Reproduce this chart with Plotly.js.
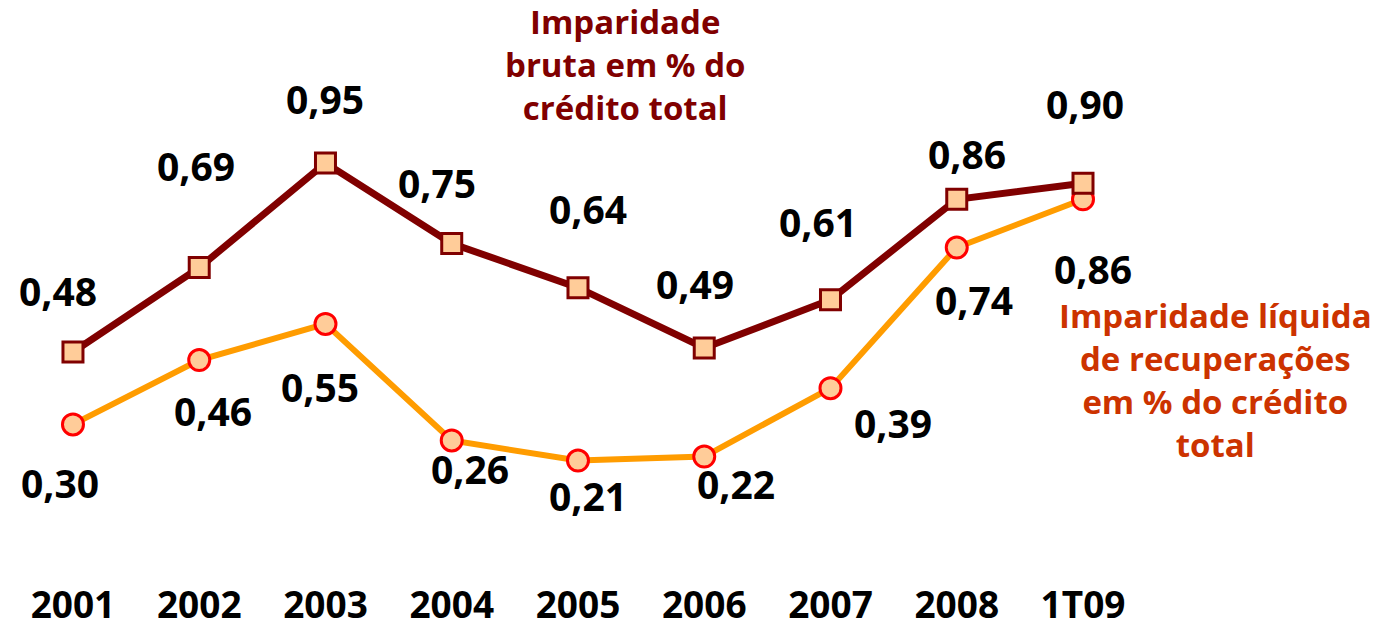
<!DOCTYPE html>
<html><head><meta charset="utf-8">
<script src="https://cdn.plot.ly/plotly-3.0.1.min.js"></script>
<style>html,body{margin:0;padding:0;background:#fff}#chart{width:1385px;height:630px}</style>
</head><body><div id="chart"></div>
<script>
const categories = ['2001','2002','2003','2004','2005','2006','2007','2008','1T09'];
const bruta = [0.48, 0.69, 0.95, 0.75, 0.64, 0.49, 0.61, 0.86, 0.90];
const liquida = [0.30, 0.46, 0.55, 0.26, 0.21, 0.22, 0.39, 0.74, 0.86];
const brutaName = 'Imparidade<br>bruta em % do<br>crédito total';
const liquidaName = 'Imparidade líquida<br>de recuperações<br>em % do crédito<br>total';

// label pixel offsets (layout only)
const brutaShift = [[-15,62],[-3,102],[0,65],[-15,61],[10,79],[-9,65],[-12,78],[10,46],[2,80]];
const liquidaShift = [[-13,-58],[14,-50],[-5,-63],[18,-28],[10,-35],[32,-27],[63,-34],[17,-52],[10,-69]];

const FONT = '"Open Sans", "DejaVu Sans", sans-serif';
const fmt = v => v.toFixed(2).replace('.', ',');

const traces = [
  {x: categories, y: liquida, type: 'scatter', mode: 'lines+markers', name: liquidaName,
   line: {color: '#ff9c00', width: 6},
   marker: {symbol: 'circle', size: 21, color: '#ffcc99', line: {color: '#ff0000', width: 3}}},
  {x: categories, y: bruta, type: 'scatter', mode: 'lines+markers', name: brutaName,
   line: {color: '#800000', width: 7},
   marker: {symbol: 'square', size: 20, color: '#ffcc99', line: {color: '#800000', width: 3}}}
];

const annotations = [];
bruta.forEach((v, i) => annotations.push({x: i, y: v, text: '<b>' + fmt(v) + '</b>', showarrow: false,
  xanchor: 'center', yanchor: 'middle',
  xshift: brutaShift[i][0], yshift: brutaShift[i][1], font: {family: FONT, size: 39, color: '#000'}}));
liquida.forEach((v, i) => annotations.push({x: i, y: v, text: '<b>' + fmt(v) + '</b>', showarrow: false,
  xanchor: 'center', yanchor: 'middle',
  xshift: liquidaShift[i][0], yshift: liquidaShift[i][1], font: {family: FONT, size: 39, color: '#000'}}));
annotations.push({xref: 'paper', yref: 'paper', x: 625/1385, y: 1 - 65/580, text: '<b>' + brutaName + '</b>', showarrow: false,
  xanchor: 'center', yanchor: 'middle', align: 'center', font: {family: FONT, size: 33, color: '#800000'}});
annotations.push({xref: 'paper', yref: 'paper', x: 1215/1385, y: 1 - 380/580, text: '<b>' + liquidaName + '</b>', showarrow: false,
  xanchor: 'center', yanchor: 'middle', align: 'center', font: {family: FONT, size: 33, color: '#cc3300'}});

const layout = {
  width: 1385, height: 630,
  margin: {l: 0, r: 0, t: 0, b: 50},
  paper_bgcolor: '#fff', plot_bgcolor: '#fff',
  showlegend: false,
  xaxis: {type: 'category', range: [-0.578, 10.392], showgrid: false, zeroline: false, showline: false,
    ticks: '', tickfont: {family: FONT, size: 37, color: '#000', weight: 'bold'}},
  yaxis: {range: [-0.0871, 1.3557], visible: false},
  annotations: annotations
};
Plotly.newPlot('chart', traces, layout, {displayModeBar: false, staticPlot: true});
</script></body></html>
